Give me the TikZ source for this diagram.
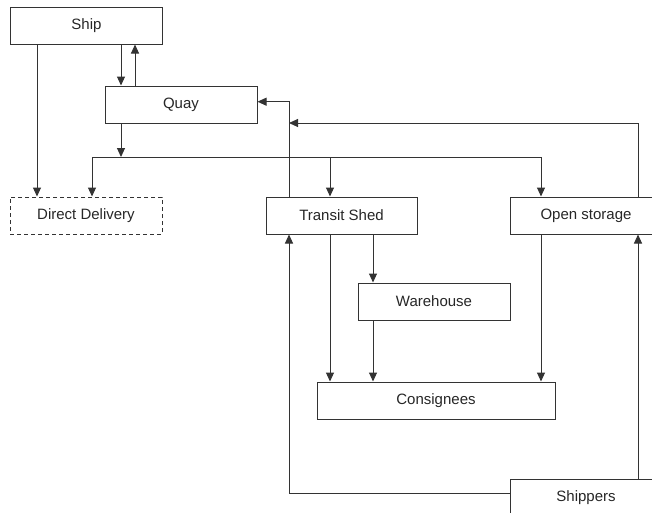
\documentclass[tikz,border=0pt]{standalone}
\usepackage{fontspec}
\setmainfont{Liberation Sans}
\usetikzlibrary{arrows.meta,positioning}

\begin{document}
\begin{tikzpicture}[x=1pt,y=-1pt,
    box/.style={draw=black!80, line width=1pt, minimum width=152pt, minimum height=37pt,
      inner sep=0pt, font=\fontsize{15}{18}\selectfont, text=black!85},
    link/.style={draw=black!80, line width=1pt, -{Triangle[length=9pt,width=8pt]}}]
  \useasboundingbox (0,0) rectangle (652,512);
  \clip (0,0) rectangle (652,512);

  \node[box] (ship) at (86.5,25.5) {Ship};
  \node[box] (quay) at (181,104.5) {Quay};
  \node[box, dash pattern=on 4pt off 3pt] (dd) at (86,215.5) {Direct Delivery};
  \node[box, minimum width=151pt] (ts) at (341.5,215.5) {Transit Shed};
  \node[box] (os) at (586,215.5) {Open storage};
  \node[box] (wh) at (434,301.5) {Warehouse};
  \node[box, minimum width=238pt] (cons) at (436,400.5) {Consignees};
  \node[box] (shp) at (586,497.5) {Shippers};

  \coordinate (bus) at (121,157);
  \coordinate (join) at (289,123);

  % ship and quay
  \draw[link] (37,0 |- ship.south) -- (37,0 |- dd.north);
  \draw[link] (121,0 |- ship.south) -- (121,0 |- quay.north);
  \draw[link] (135,0 |- quay.north) -- (135,0 |- ship.south);
  \draw[link] (121,0 |- quay.south) -- (bus);

  % distribution from the quay
  \draw[line width=1pt, black!80] (92,0 |- bus) -- (541,0 |- bus);
  \draw[link] (92,0 |- bus) -- (92,0 |- dd.north);
  \draw[link] (330,0 |- bus) -- (330,0 |- ts.north);
  \draw[link] (541,0 |- bus) -- (541,0 |- os.north);

  % back to the quay
  \draw[link] (289,0 |- ts.north) |- ([yshift=2.8pt]quay.east);
  \draw[link] (638,0 |- os.north) |- (join);

  % to the consignees
  \draw[link] (330,0 |- ts.south) -- (330,0 |- cons.north);
  \draw[link] (373,0 |- ts.south) -- (373,0 |- wh.north);
  \draw[link] (373,0 |- wh.south) -- (373,0 |- cons.north);
  \draw[link] (541,0 |- os.south) -- (541,0 |- cons.north);

  % from the shippers
  \draw[link] ([yshift=4.5pt]shp.west) -| (289,0 |- ts.south);
  \draw[link] (638,0 |- shp.north) -- (638,0 |- os.south);
\end{tikzpicture}
\end{document}
